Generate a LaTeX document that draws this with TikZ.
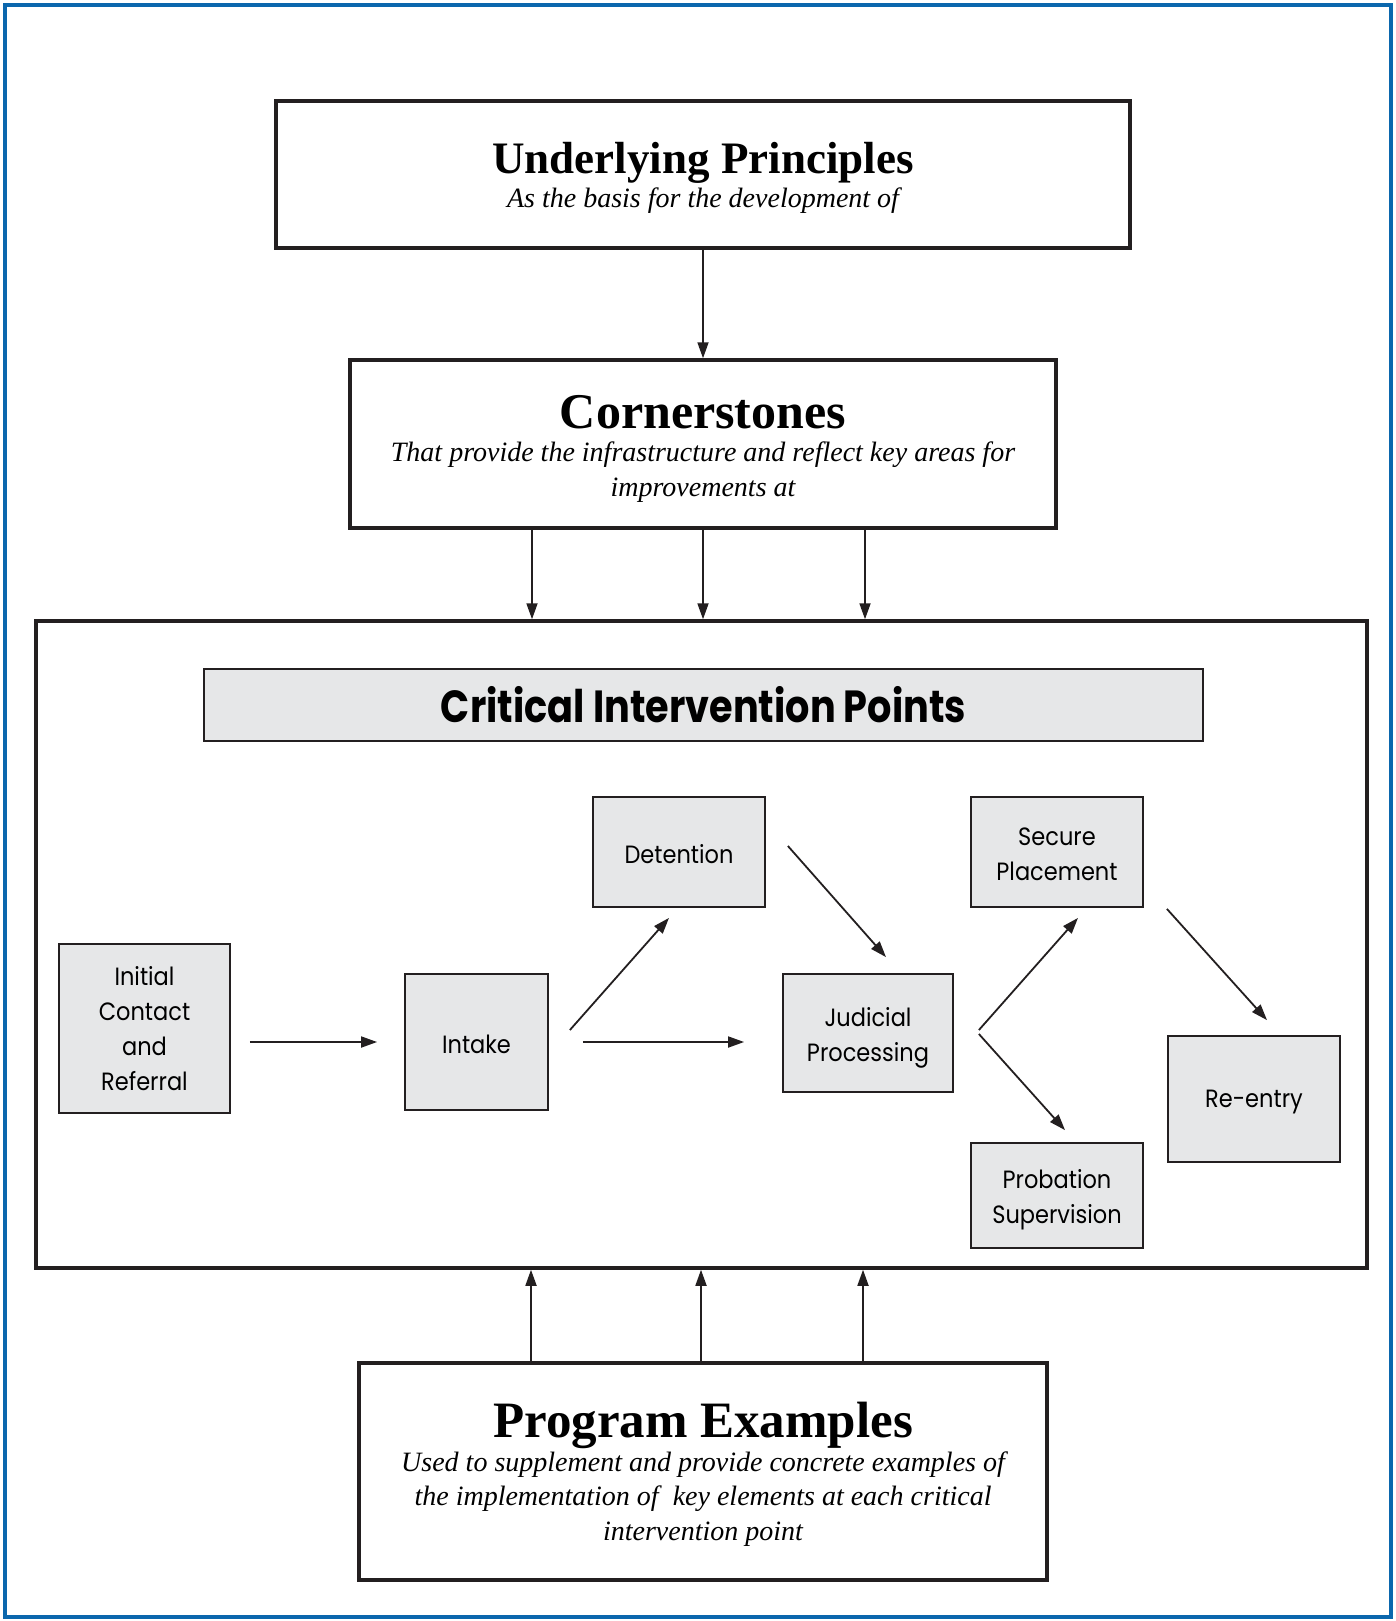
\documentclass[tikz,border=0pt]{standalone}
\usepackage{fontspec}
\setmainfont{Liberation Serif}
\newfontfamily\sansf[FakeStretch=0.9]{Poppins}
\newfontfamily\sansbf[FakeStretch=0.85]{Poppins}
\usetikzlibrary{arrows.meta,calc}
\definecolor{frameblue}{HTML}{0B67AD}
\definecolor{boxgray}{HTML}{E6E7E8}
\definecolor{ink}{HTML}{231F20}
\tikzset{
  bigbox/.style={draw=ink, line width=3.5pt, fill=white, inner sep=0pt, align=center,
    font=\fontsize{28}{34.5}\selectfont\itshape},
  stagebox/.style={draw=ink, line width=1.8pt, fill=boxgray, inner sep=0pt, align=center,
    font=\sansf\fontsize{25}{35}\selectfont},
  arr/.style={draw=ink, line width=1.8pt, -{Triangle[length=16pt,width=11pt]}},
}
\newcommand{\titlefont}[1]{\fontsize{#1}{#1}\selectfont\bfseries\upshape}
\newcommand{\lift}[1]{\rule{0pt}{#1pt}}
\begin{document}
\begin{tikzpicture}[x=1pt,y=-1pt]
\useasboundingbox (0,0) rectangle (1395,1621);
\draw[frameblue, line width=4pt] (5.3,5.3) rectangle (1391,1617);

% top boxes
\node[bigbox, minimum width=854, minimum height=147] (up) at (703,174.5)
  {\lift{38}{\titlefont{45}Underlying Principles}\\[-1pt]As the basis for the development of};
\node[bigbox, minimum width=706, minimum height=168] (cs) at (703,444)
  {\lift{42}{\titlefont{50}Cornerstones}\\[-1pt]That provide the infrastructure and reflect key areas for\\improvements at};

% container
\node[draw=ink, line width=3.5pt, minimum width=1331, minimum height=647, inner sep=0pt] (cip) at (701.5,944.5) {};
\node[draw=ink, line width=1.8pt, fill=boxgray, minimum width=999, minimum height=72, inner sep=0pt,
  font=\sansbf\bfseries\fontsize{45}{45}\selectfont] (hdr) at (703.5,705) {Critical Intervention Points};

% stages
\node[stagebox, minimum width=171, minimum height=169] (ic) at (144.5,1028.5) {Initial\\Contact\\and\\Referral};
\node[stagebox, minimum width=143, minimum height=136] (intake) at (476.5,1042) {\lift{24}Intake};
\node[stagebox, minimum width=172, minimum height=110] (det) at (679,852) {\lift{24}Detention};
\node[stagebox, minimum width=170, minimum height=118] (jud) at (868,1033) {\lift{28}Judicial\\Processing};
\node[stagebox, minimum width=172, minimum height=110] (sec) at (1057,852) {\lift{22}Secure\\Placement};
\node[stagebox, minimum width=172, minimum height=105] (prob) at (1057,1195.5) {\lift{27}Probation\\Supervision};
\node[stagebox, minimum width=172, minimum height=126] (reen) at (1254,1099) {\lift{24}Re-entry};

% bottom box
\node[bigbox, minimum width=688, minimum height=217] (pe) at (703,1471.5)
  {\lift{41}{\titlefont{51}Program Examples}\\[-1pt]Used to supplement and provide concrete examples of\\the implementation of~ key elements at each critical\\intervention point};

% vertical connectors
\draw[arr] (up.south) -- (cs.north);
\coordinate (csA) at ($(cs.south)+(-171,0)$);
\coordinate (csB) at (cs.south);
\coordinate (csC) at ($(cs.south)+(162,0)$);
\draw[arr] (csA) -- (csA |- cip.north);
\draw[arr] (csB) -- (csB |- cip.north);
\draw[arr] (csC) -- (csC |- cip.north);
\coordinate (peA) at ($(pe.north)+(-172,0)$);
\coordinate (peB) at ($(pe.north)+(-2,0)$);
\coordinate (peC) at ($(pe.north)+(160,0)$);
\draw[arr] (peA) -- (peA |- cip.south);
\draw[arr] (peB) -- (peB |- cip.south);
\draw[arr] (peC) -- (peC |- cip.south);

% flow connectors (free-floating between boxes)
\coordinate (icS) at ($(ic.east |- intake.west)+(19,0)$);
\coordinate (icE) at ($(intake.west)+(-27,0)$);
\draw[arr] (icS) -- (icE);
\coordinate (inJS) at ($(intake.east)+(34,0)$);
\coordinate (inJE) at ($(jud.west |- intake.east)+(-38,0)$);
\draw[arr] (inJS) -- (inJE);
\coordinate (inDS) at ($(intake.east)+(21,-12)$);
\coordinate (inDE) at ($(det.south)+(-10,10)$);
\draw[arr] (inDS) -- (inDE);
\coordinate (dJS) at ($(det.east)+(22,-6)$);
\coordinate (dJE) at ($(jud.north)+(18,-16)$);
\draw[arr] (dJS) -- (dJE);
\coordinate (jSS) at ($(jud.east)+(25,-3)$);
\coordinate (jSE) at ($(sec.south)+(21,10)$);
\draw[arr] (jSS) -- (jSE);
\coordinate (jPS) at ($(jud.east)+(25,1)$);
\coordinate (jPE) at ($(prob.north)+(8,-12)$);
\draw[arr] (jPS) -- (jPE);
\coordinate (sRS) at ($(sec.south east)+(23,1)$);
\coordinate (sRE) at ($(reen.north)+(13,-15)$);
\draw[arr] (sRS) -- (sRE);
\end{tikzpicture}
\end{document}
